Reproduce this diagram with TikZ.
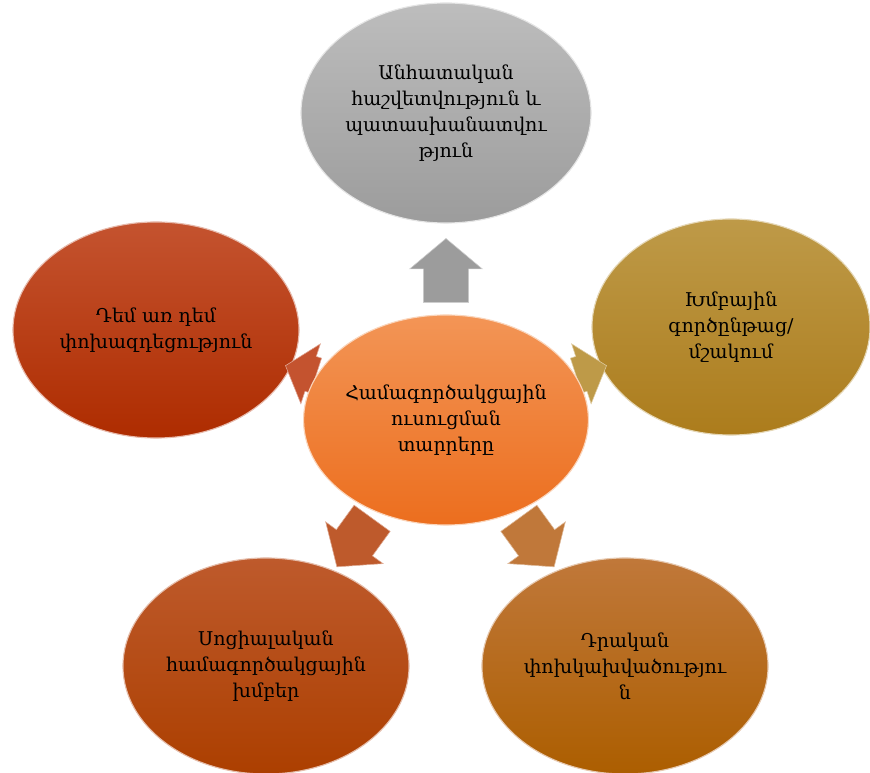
\documentclass[tikz,border=0pt]{standalone}
\usepackage{fontspec}
\setmainfont{DejaVu Serif}
\usetikzlibrary{shapes.geometric,shapes.arrows}

\definecolor{grayTop}{HTML}{BDBDBD}
\definecolor{grayBot}{HTML}{9C9C9C}
\definecolor{coreTop}{HTML}{F39556}
\definecolor{coreBot}{HTML}{EC6E1E}
\definecolor{redTop}{HTML}{C4532F}
\definecolor{redBot}{HTML}{AE2C00}
\definecolor{goldTop}{HTML}{BE9A48}
\definecolor{goldBot}{HTML}{AC7C1C}
\definecolor{rustTop}{HTML}{BE5A2C}
\definecolor{rustBot}{HTML}{AC3F00}
\definecolor{amberTop}{HTML}{C0783A}
\definecolor{amberBot}{HTML}{AC5E00}

\tikzset{
	elem/.style={ellipse, inner sep=0pt, minimum width=7.15cm, minimum height=5.4cm,
		draw=white!60!#1Top, line width=0.8pt, top color=#1Top, bottom color=#1Bot,
		align=center, font=\fontsize{13.5}{18.5}\selectfont},
	blk/.style={single arrow, draw=white!50!#1, line width=0.4pt, fill=#1, inner xsep=0pt,
		single arrow tip angle=100}
}

\begin{document}
\begin{tikzpicture}[x=0.025cm, y=-0.025cm]
	\useasboundingbox (0,0) rectangle (870,773);

	\node[elem=gray, minimum width=7.25cm, minimum height=5.5cm] (acc) at (446,113)
		{Անհատական\\հաշվետվություն և\\պատասխանատվու\\թյուն};
	\node[elem=red] (face) at (156,330) {Դեմ առ դեմ\\փոխազդեցություն};
	\node[elem=gold, minimum width=6.95cm] (grp) at (731,327) {Խմբային\\գործընթաց/\\մշակում};
	\node[elem=rust] (soc) at (266,666) {Սոցիալական\\համագործակցային\\խմբեր};
	\node[elem=amber] (pos) at (625,666) {Դրական\\փոխկախվածությու\\ն};

	\node[blk=grayBot, minimum height=1.6cm, inner ysep=0.56cm, single arrow head extend=0.34cm,
		rotate=90] (aUp) at (446,280) {};
	\node[blk=redTop, minimum height=0.8cm, inner ysep=0.45cm, single arrow head extend=0.33cm,
		rotate=162] (aLeft) at (308,373) {};
	\node[blk=goldTop, minimum height=0.8cm, inner ysep=0.45cm, single arrow head extend=0.33cm,
		rotate=18] (aRight) at (584,373) {};
	\node[blk=rustTop, minimum height=1.5cm, inner ysep=0.55cm, single arrow head extend=0.33cm,
		rotate=-126] (aSoc) at (360,535) {};
	\node[blk=amberTop, minimum height=1.5cm, inner ysep=0.55cm, single arrow head extend=0.33cm,
		rotate=-54] (aPos) at (531,535) {};

	\node[elem=core, minimum width=6.95cm, minimum height=5.25cm] (core) at (446,420)
		{Համագործակցային\\ուսուցման\\տարրերը};
\end{tikzpicture}
\end{document}
